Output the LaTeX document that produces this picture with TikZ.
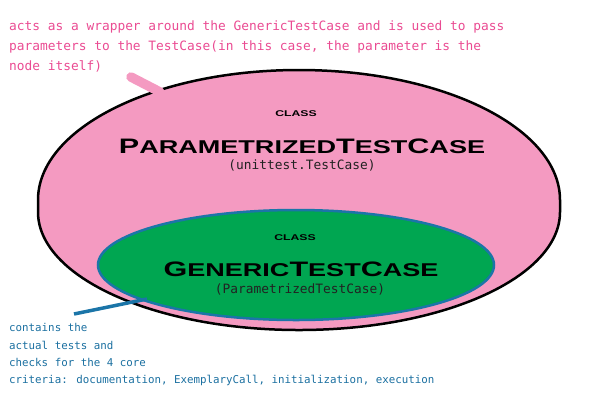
\documentclass[tikz,border=0pt]{standalone}
\usepackage{fontspec}
\usetikzlibrary{shapes.geometric}
\newfontfamily\monofont{DejaVu Sans Mono}
\newfontfamily\widefont[FakeStretch=1.46]{Liberation Sans Bold}
\definecolor{pinkfill}{HTML}{F49AC1}
\definecolor{pinktext}{HTML}{EA4B92}
\definecolor{greenfill}{HTML}{00A651}
\definecolor{blueline}{HTML}{1B75A8}
\definecolor{bluetext}{HTML}{1A6FA0}
\definecolor{darktext}{HTML}{222222}
\newcommand{\bigsc}[1]{{\fontsize{21}{21}\selectfont #1}}
\newcommand{\smallsc}[1]{{\fontsize{18.6}{18.6}\selectfont #1}}
\tikzset{
  pinknote/.style={font=\monofont\fontsize{12.9}{19.6}\selectfont, text=pinktext, align=left, inner sep=0pt, anchor=base west},
  bluenote/.style={font=\monofont\fontsize{10.85}{17.3}\selectfont, text=bluetext, align=left, inner sep=0pt, anchor=base west},
  classlbl/.style={font=\widefont\fontsize{8.4}{8.4}\selectfont, text=black, inner sep=0pt, anchor=base},
  titlelbl/.style={font=\widefont, text=black, inner sep=0pt, anchor=base},
  parentlbl/.style={font=\monofont\fontsize{12.9}{13}\selectfont, text=darktext, inner sep=0pt, anchor=base},
}
\begin{document}
\begin{tikzpicture}[x=1bp,y=-1bp]
\useasboundingbox (0,0) rectangle (600,400);
% outer class shape
\path[fill=pinkfill, draw=black, line width=2.5bp]
  (38,200) arc[start angle=180, end angle=360, x radius=261, y radius=130]
  -- (560,212) arc[start angle=0, end angle=180, x radius=261, y radius=118]
  -- cycle;
% pink pointer
\coordinate (pa) at (131,77);
\coordinate (pb) at (160,92);
\draw[pinkfill, line width=9.5bp, line cap=round] (pa) -- (pb);
% inner ellipse
\node[ellipse, draw=blueline, fill=greenfill, line width=2.5bp, minimum width=396bp, minimum height=110bp, inner sep=0pt] (inner) at (296,265) {};
% blue pointer
\coordinate (ba) at (74,314);
\coordinate (bb) at (147,299);
\draw[blueline, line width=3.5bp] (ba) -- (bb);
% texts
\node[pinknote] (ptext) at (9,70) {acts as a wrapper around the GenericTestCase and is used to pass\\parameters to the TestCase(in this case, the parameter is the\\node itself)};
\node[bluenote] (btext) at (9,383.5) {contains the\\actual tests and\\checks for the 4 core\\criteria: documentation, ExemplaryCall, initialization, execution};
\node[classlbl] (c1) at (296,116.5) {CLASS};
\node[titlelbl] (t1) at (302,153) {\bigsc{P}\smallsc{ARAMETRIZED}\bigsc{T}\smallsc{EST}\bigsc{C}\smallsc{ASE}};
\node[parentlbl] (p1) at (302,169) {(unittest.TestCase)};
\node[classlbl] (c2) at (295,240) {CLASS};
\node[titlelbl] (t2) at (301,276) {\bigsc{G}\smallsc{ENERIC}\bigsc{T}\smallsc{EST}\bigsc{C}\smallsc{ASE}};
\node[parentlbl] (p2) at (300,293) {(ParametrizedTestCase)};
\end{tikzpicture}
\end{document}
